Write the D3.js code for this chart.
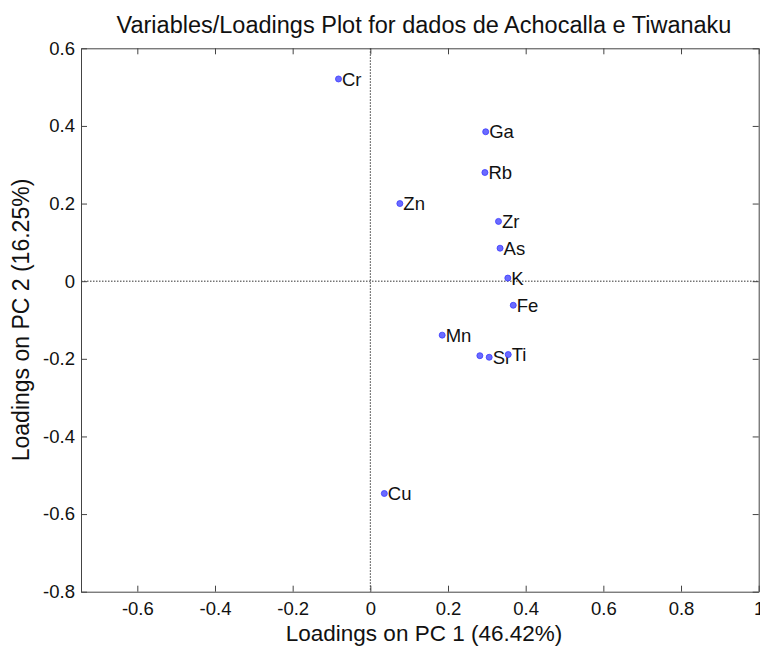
<!DOCTYPE html>
<html>
<head>
<meta charset="utf-8">
<script src="https://cdn.jsdelivr.net/npm/d3@7"></script>
<style>
  body { margin: 0; background: #fff; }
  svg { font-family: "Liberation Sans", Arial, sans-serif; }
</style>
</head>
<body>
<svg width="760" height="648"></svg>
<script>
// loadings
const names = ['Cr', 'Ga', 'Rb', 'Zn', 'Zr', 'As', 'K', 'Fe', 'Mn', '', 'Sr', 'Ti', 'Cu'];
const pc1 = [-0.082, 0.297, 0.295, 0.076, 0.330, 0.334, 0.354, 0.368, 0.185, 0.282, 0.306, 0.355, 0.036];
const pc2 = [0.521, 0.385, 0.280, 0.200, 0.154, 0.085, 0.008, -0.062, -0.139, -0.192, -0.196, -0.189, -0.547];
const xTicks = [-0.6, -0.4, -0.2, 0, 0.2, 0.4, 0.6, 0.8, 1];
const yTicks = [0.6, 0.4, 0.2, 0, -0.2, -0.4, -0.6, -0.8];

const svg = d3.select('svg');
const x = d3.scaleLinear().domain([-0.745, 1]).range([81, 758.7]);
const y = d3.scaleLinear().domain([0.6, -0.8]).range([48.3, 591.7]);
// plain hyphen minus, like matlab
const fmt = d => d === 0 ? '0' : d === 1 ? '1' : d.toFixed(1);

// zero lines
svg.append('line').attr('x1', x(0)).attr('x2', x(0)).attr('y1', y(0.6)).attr('y2', y(-0.8))
   .attr('stroke', '#333').attr('stroke-dasharray', '1.5,1.5');
svg.append('line').attr('x1', x(-0.745)).attr('x2', x(1)).attr('y1', y(0)).attr('y2', y(0))
   .attr('stroke', '#333').attr('stroke-dasharray', '1.5,1.5');

// axes (ticks inward like matlab)
const axG = svg.append('g');
axG.append('g').attr('transform', `translate(0,${y(-0.8)})`)
   .call(d3.axisBottom(x).tickValues(xTicks).tickFormat(fmt).tickSizeInner(-6).tickSizeOuter(0).tickPadding(10));
axG.append('g').attr('transform', `translate(0,${y(0.6)})`)
   .call(d3.axisTop(x).tickValues(xTicks).tickFormat('').tickSizeInner(-6).tickSizeOuter(0));
axG.append('g').attr('transform', `translate(${x(-0.745)},0)`)
   .call(d3.axisLeft(y).tickValues(yTicks).tickFormat(fmt).tickSizeInner(-6).tickSizeOuter(0).tickPadding(6));
axG.append('g').attr('transform', `translate(${x(1)},0)`)
   .call(d3.axisRight(y).tickValues(yTicks).tickFormat('').tickSizeInner(-6).tickSizeOuter(0));
axG.selectAll('.domain, .tick line').attr('stroke', '#444');
axG.selectAll('text').attr('fill', '#111').attr('font-size', 18.5)
   .attr('font-family', '"Liberation Sans", Arial, sans-serif');

// points + labels, drawn one after another
const pts = names.map((n, i) => ({ n, a: pc1[i], b: pc2[i] }));
const g = svg.selectAll('.pt').data(pts).enter().append('g').attr('class', 'pt')
   .attr('transform', d => `translate(${x(d.a)},${y(d.b)})`);
g.append('circle').attr('r', 3).attr('fill', '#6b6bff').attr('stroke', '#3a3aff').attr('stroke-width', 0.8);
g.append('text').attr('x', 3.5).attr('dy', '0.36em').attr('font-size', 18.5).attr('fill', '#111').text(d => d.n);

// titles
svg.append('text').attr('x', 424).attr('y', 33).attr('text-anchor', 'middle').attr('font-size', 23.5)
   .attr('fill', '#111').text('Variables/Loadings Plot for dados de Achocalla e Tiwanaku');
svg.append('text').attr('x', 424).attr('y', 641).attr('text-anchor', 'middle').attr('font-size', 22.5)
   .attr('fill', '#111').text('Loadings on PC 1 (46.42%)');
svg.append('text').attr('transform', 'translate(29,320) rotate(-90)').attr('text-anchor', 'middle')
   .attr('font-size', 23).attr('fill', '#111').text('Loadings on PC 2 (16.25%)');
</script>
</body>
</html>
